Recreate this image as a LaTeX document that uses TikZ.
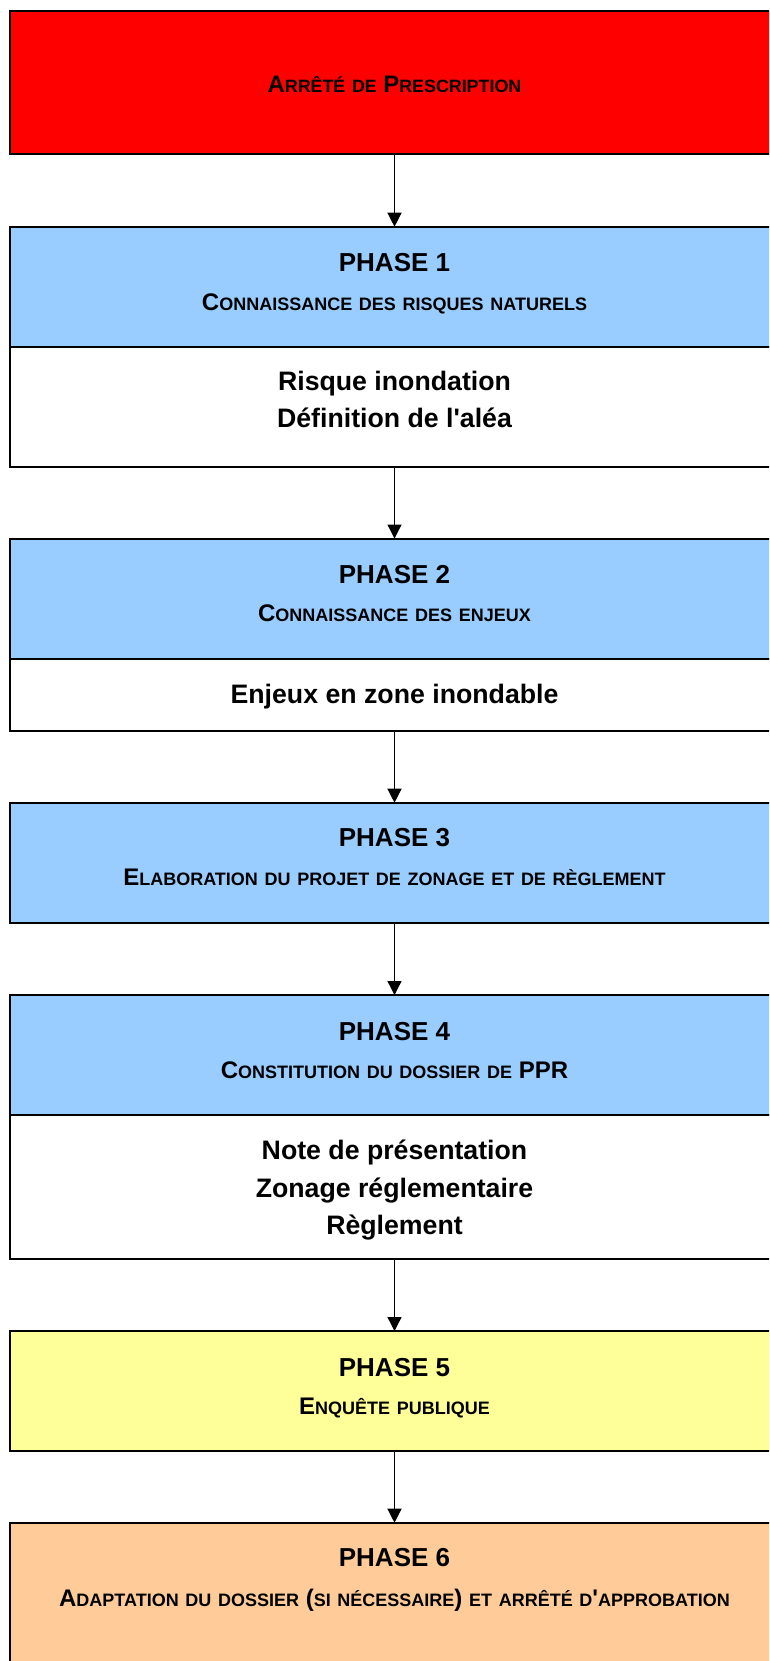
\documentclass[tikz,border=0pt]{standalone}
\usepackage{fontspec}
\setmainfont{Liberation Sans}
\usetikzlibrary{arrows.meta,positioning}

\definecolor{rouge}{RGB}{255,0,0}
\definecolor{bleu}{RGB}{153,204,255}
\definecolor{jaune}{RGB}{255,255,153}
\definecolor{saumon}{RGB}{255,204,153}

% petites capitales "a la Word": minuscules en majuscules reduites
\makeatletter
\newcommand{\pcap}[1]{{\fontsize{0.75\dimexpr\f@size pt\relax}{\f@baselineskip}\selectfont\MakeUppercase{#1}}}
\makeatother

\begin{document}
\begin{tikzpicture}[x=1pt, y=-1pt,
  boite/.style={draw=black, line width=2pt, minimum width=769pt, inner sep=0pt, outer sep=0pt, anchor=north west},
  fleche/.style={-{Triangle[length=14pt,width=14pt]}, line width=1.3pt},
  titre/.style={font=\bfseries\fontsize{23.8}{30}\selectfont, anchor=base},
  phase/.style={font=\bfseries\fontsize{26}{30}\selectfont, anchor=base},
  sous/.style={font=\bfseries\fontsize{24}{28}\selectfont, anchor=base},
  corps/.style={font=\bfseries\fontsize{26.7}{32}\selectfont, anchor=base},
]
\useasboundingbox (0,0) rectangle (769,1661);
\clip (0,0) rectangle (769,1661);

% ======================= Boites =======================
\node[boite, fill=rouge, minimum height=143.8pt] (arrete) at (10,10.7) {};
\node[boite, fill=bleu, minimum height=120pt] (ph1) at (10,226.7) {};
\node[boite, fill=white, minimum height=120pt] (ph1b) at (10,346.7) {};
\node[boite, fill=bleu, minimum height=120pt] (ph2) at (10,538.5) {};
\node[boite, fill=white, minimum height=72.2pt] (ph2b) at (10,658.5) {};
\node[boite, fill=bleu, minimum height=120pt] (ph3) at (10,802.7) {};
\node[boite, fill=bleu, minimum height=120pt] (ph4) at (10,995) {};
\node[boite, fill=white, minimum height=143.5pt] (ph4b) at (10,1115) {};
\node[boite, fill=jaune, minimum height=120pt] (ph5) at (10,1331) {};
\node[boite, fill=saumon, minimum height=200pt] (ph6) at (10,1522.7) {};

% ======================= Textes =======================
\node[titre] (t0) at (394.5,92.7) {A\pcap{rrêté} \pcap{de} P\pcap{rescription}};

\node[phase] (t1) at (394.5,271.7) {PHASE 1};
\node[sous] (s1) at (394.5,310) {C\pcap{onnaissance} \pcap{des} \pcap{risques} \pcap{naturels}};
\node[corps] (c1a) at (394.5,390) {Risque inondation};
\node[corps] (c1b) at (394.5,427) {Définition de l\textquotesingle aléa};

\node[phase] (t2) at (394.5,583.5) {PHASE 2};
\node[sous] (s2) at (394.5,621.8) {C\pcap{onnaissance} \pcap{des} \pcap{enjeux}};
\node[corps] (c2a) at (394.5,703.3) {Enjeux en zone inondable};

\node[phase] (t3) at (394.5,846.7) {PHASE 3};
\node[sous] (s3) at (394.5,885) {E\pcap{laboration} \pcap{du} \pcap{projet} \pcap{de} \pcap{zonage} \pcap{et} \pcap{de} \pcap{règlement}};

\node[phase] (t4) at (394.5,1040) {PHASE 4};
\node[sous] (s4) at (394.5,1078.3) {C\pcap{onstitution} \pcap{du} \pcap{dossier} \pcap{de} PPR};
\node[corps] (c4a) at (394.5,1159) {Note de présentation};
\node[corps] (c4b) at (394.5,1197) {Zonage réglementaire};
\node[corps] (c4c) at (394.5,1234) {Règlement};

\node[phase] (t5) at (394.5,1376) {PHASE 5};
\node[sous] (s5) at (394.5,1414.3) {E\pcap{nquête} \pcap{publique}};

\node[phase] (t6) at (394.5,1566.7) {PHASE 6};
\node[sous] (s6) at (394.5,1606) {A\pcap{daptation} \pcap{du} \pcap{dossier} (\pcap{si} \pcap{nécessaire}) \pcap{et} \pcap{arrêté} \pcap{d}\textquotesingle\pcap{approbation}};

% ======================= Fleches =======================
\draw[fleche] (arrete.south) -- (ph1.north);
\draw[fleche] (ph1b.south) -- (ph2.north);
\draw[fleche] (ph2b.south) -- (ph3.north);
\draw[fleche] (ph3.south) -- (ph4.north);
\draw[fleche] (ph4b.south) -- (ph5.north);
\draw[fleche] (ph5.south) -- (ph6.north);

\end{tikzpicture}
\end{document}
